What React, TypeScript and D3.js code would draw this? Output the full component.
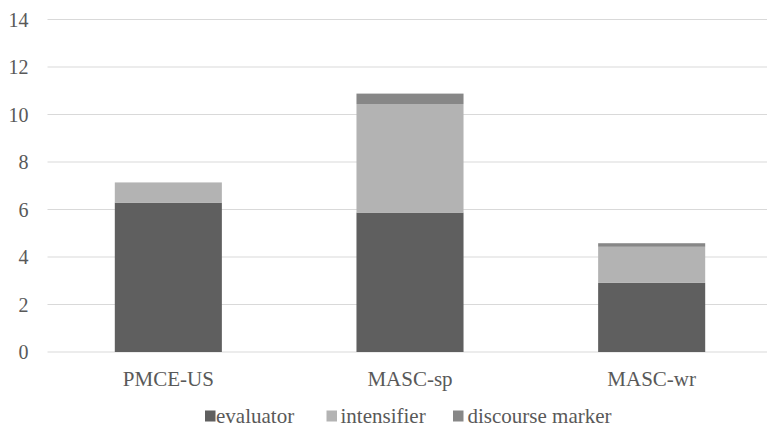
import React from "react";
import * as d3 from "d3";

const categories = ["PMCE-US", "MASC-sp", "MASC-wr"];
const seriesNames = ["evaluator", "intensifier", "discourse marker"];
const evaluator = [6.29, 5.87, 2.91];
const intensifier = [0.85, 4.57, 1.52];
const discourseMarker = [0, 0.44, 0.15];
const yTicks = [0, 2, 4, 6, 8, 10, 12, 14];
const colors = ["#5f5f5f", "#b3b3b3", "#878787"];

const W = 767;
const H = 427;
const FONT = '"Liberation Serif", "Times New Roman", Times, serif';
const TEXT = "#595959";
const tickStyle = { fontFamily: FONT, fontSize: "20px" };
const textStyle = { fontFamily: FONT, fontSize: "21px" };

export default function App() {
  const x = d3
    .scaleBand<string>()
    .domain(categories)
    .range([47.5, 772.5])
    .paddingInner(0.557)
    .paddingOuter(0.2785);
  const y = d3.scaleLinear().domain([0, 14]).range([352, 19.5]);

  const rows = categories.map((c, i) => ({
    cat: c,
    evaluator: evaluator[i],
    intensifier: intensifier[i],
    "discourse marker": discourseMarker[i],
  }));
  const stack = d3.stack<any>().keys(seriesNames)(rows);

  const legendX = [205, 326.5, 453];
  const legendTextX = [216, 340.5, 467.5];

  return (
    <svg
      width={W}
      height={H}
      style={{ position: "absolute", left: 0, top: 0, background: "#fff" }}
    >
      {yTicks.map((t) => (
        <g key={t}>
          <line x1={47.5} x2={W} y1={y(t)} y2={y(t)} stroke="#d9d9d9" strokeWidth={1.2} />
          <text x={28.5} y={y(t)} dy="0.35em" textAnchor="end" style={tickStyle} fill={TEXT}>
            {t}
          </text>
        </g>
      ))}
      {stack.map((s, si) => (
        <g key={s.key} fill={colors[si]}>
          {s.map((d, i) =>
            d[1] - d[0] > 0 ? (
              <rect
                key={i}
                x={x(categories[i])}
                width={x.bandwidth()}
                y={y(d[1])}
                height={y(d[0]) - y(d[1])}
              />
            ) : null
          )}
        </g>
      ))}
      {categories.map((c) => (
        <text
          key={c}
          x={(x(c) as number) + x.bandwidth() / 2}
          y={385.5}
          textAnchor="middle"
          style={textStyle}
          fill={TEXT}
        >
          {c}
        </text>
      ))}
      {seriesNames.map((n, i) => (
        <g key={n}>
          <rect x={legendX[i]} y={410.5} width={10.5} height={11} fill={colors[i]} />
          <text x={legendTextX[i]} y={422.5} style={textStyle} fill={TEXT}>
            {n}
          </text>
        </g>
      ))}
    </svg>
  );
}
